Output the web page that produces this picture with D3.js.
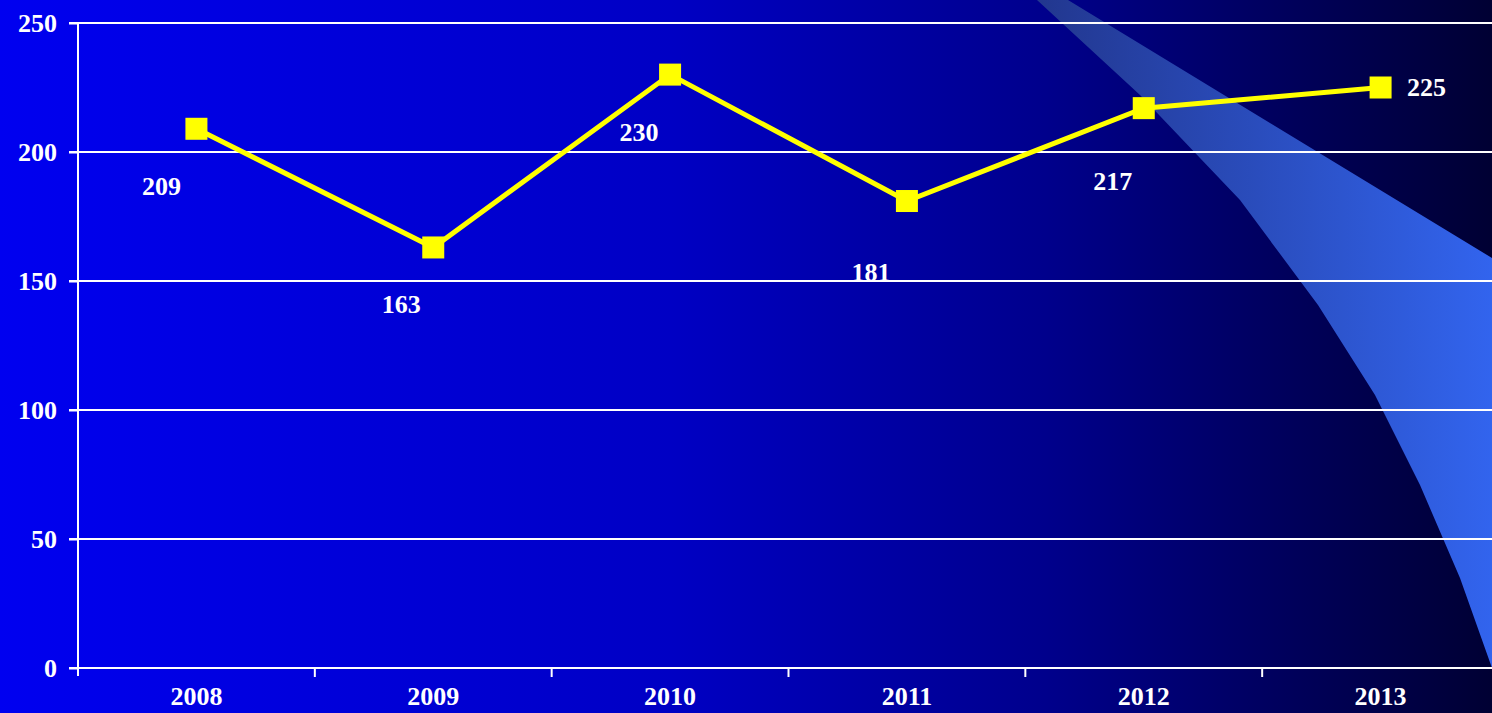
<!DOCTYPE html>
<html>
<head>
<meta charset="utf-8">
<script src="https://cdn.jsdelivr.net/npm/d3@7"></script>
<style>
  html, body { margin: 0; padding: 0; overflow: hidden; background: #000033; }
  text { font-family: "Liberation Serif", "Times New Roman", serif; font-weight: bold; fill: #fff; }
</style>
</head>
<body>
<script>
// chart data
var years = ["2008", "2009", "2010", "2011", "2012", "2013"];
var values = [209, 163, 230, 181, 217, 225];
var yTicks = [0, 50, 100, 150, 200, 250];

// label placement (dx, dy from the point)
var labelOffsets = [[-35, 58], [-32, 57], [-31, 58], [-36, 71], [-31, 73], [46, 0]];

const W = 1492, H = 713;
var svg = d3.select("body").append("svg").attr("width", W).attr("height", H);

var defs = svg.append("defs");
var bg = defs.append("linearGradient").attr("id", "bg").attr("x1", 0).attr("x2", 1).attr("y1", 0).attr("y2", 0);
bg.append("stop").attr("offset", 0).attr("stop-color", "#0000f0");
bg.append("stop").attr("offset", 0.45).attr("stop-color", "#0000c4");
bg.append("stop").attr("offset", 0.7).attr("stop-color", "#00008c");
bg.append("stop").attr("offset", 1).attr("stop-color", "#000033");

var sw = defs.append("linearGradient").attr("id", "swoosh").attr("gradientUnits", "userSpaceOnUse")
  .attr("x1", 1040).attr("x2", 1492).attr("y1", 0).attr("y2", 0);
sw.append("stop").attr("offset", 0).attr("stop-color", "#22378f");
sw.append("stop").attr("offset", 0.6).attr("stop-color", "#2c52c8");
sw.append("stop").attr("offset", 1).attr("stop-color", "#3264ee");

svg.append("rect").attr("width", W).attr("height", H).attr("fill", "url(#bg)");

// decorative swoosh
var swooshPts = [[1037, 0], [1068, 0], [1492, 258], [1492, 668], [1460, 578], [1420, 485],
  [1375, 395], [1318, 305], [1240, 200], [1140, 95]];
svg.append("path")
  .attr("d", d3.line()(swooshPts) + "Z")
  .attr("fill", "url(#swoosh)");

var x = d3.scaleBand().domain(years).range([78, 1499]);
var y = d3.scaleLinear().domain([0, 250]).range([668, 23]);

// gridlines
svg.append("g").selectAll("line").data(yTicks).join("line")
  .attr("x1", 69).attr("x2", W)
  .attr("y1", d => y(d)).attr("y2", d => y(d))
  .attr("stroke", "#fff").attr("stroke-width", 2);

// y axis
var yAxis = svg.append("g").attr("transform", "translate(78,0)")
  .call(d3.axisLeft(y).tickValues(yTicks).tickSize(9).tickPadding(12));
yAxis.select(".domain").attr("stroke", "#fff").attr("stroke-width", 2).attr("d", "M0,23V676");
yAxis.selectAll(".tick line").attr("stroke", "#fff").attr("stroke-width", 2);
yAxis.selectAll("text").attr("font-size", 26).attr("fill", "#fff")
  .attr("font-family", "Liberation Serif").attr("font-weight", "bold");

// x axis
var xAxis = svg.append("g").attr("transform", "translate(0,668)")
  .call(d3.axisBottom(x).tickSize(0).tickPadding(19));
xAxis.select(".domain").remove();
xAxis.selectAll("text").attr("font-size", 26).attr("fill", "#fff")
  .attr("font-family", "Liberation Serif").attr("font-weight", "bold");
svg.append("g").selectAll("line").data(years.slice(1)).join("line")
  .attr("x1", d => x(d)).attr("x2", d => x(d))
  .attr("y1", 668).attr("y2", 677)
  .attr("stroke", "#fff").attr("stroke-width", 2);

// line
var cx = d => x(d) + x.bandwidth() / 2;
svg.append("path")
  .datum(values)
  .attr("d", d3.line().x((d, i) => cx(years[i])).y(d => y(d)))
  .attr("fill", "none").attr("stroke", "#ffff00").attr("stroke-width", 5);

svg.append("g").selectAll("rect").data(values).join("rect")
  .attr("x", (d, i) => cx(years[i]) - 11).attr("y", d => y(d) - 11)
  .attr("width", 22).attr("height", 22).attr("fill", "#ffff00");

// value labels
svg.append("g").selectAll("text").data(values).join("text")
  .attr("x", (d, i) => cx(years[i]) + labelOffsets[i][0])
  .attr("y", (d, i) => y(d) + labelOffsets[i][1])
  .attr("text-anchor", "middle").attr("dominant-baseline", "central")
  .attr("font-size", 26)
  .text(d => d);
</script>
</body>
</html>
